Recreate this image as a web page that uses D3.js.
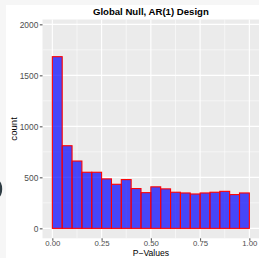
<!DOCTYPE html>
<html><head><meta charset="utf-8">
<script src="https://cdn.jsdelivr.net/npm/d3@7"></script>
<style>html,body{margin:0;padding:0;background:#f6f6f6;}svg{display:block;}</style>
</head><body>
<svg id="c" width="259" height="258"></svg>
<script>
const binStarts = [0.00,0.05,0.10,0.15,0.20,0.25,0.30,0.35,0.40,0.45,0.50,0.55,0.60,0.65,0.70,0.75,0.80,0.85,0.90,0.95];
const binWidth = 0.05;
const counts = [1683,810,660,550,550,485,432,478,390,350,407,387,354,347,337,347,354,363,331,347];
const xTicks = [0,0.25,0.5,0.75,1];
const xTickLabels = ["0.00","0.25","0.50","0.75","1.00"];
const yTicks = [0,500,1000,1500,2000];
const yTickLabels = ["0","500","1000","1500","2000"];
const titleText = "Global Null, AR(1) Design";
const xTitle = "P\u2212Values";
const yTitle = "count";

const svg = d3.select("#c");
const font = "'Liberation Sans', Arial, Helvetica, sans-serif";
svg.append("rect").attr("x",6).attr("y",5).attr("width",253).attr("height",253).attr("fill","#ffffff");
svg.append("ellipse").attr("cx",-2).attr("cy",189).attr("rx",4.2).attr("ry",8.5).attr("fill","#2f3d44");

const L = 42.5, R = 259.2, T = 19.5, B = 238.3;
const x = d3.scaleLinear().domain([-0.05,1.05]).range([L,R]);
const y = d3.scaleLinear().domain([-97.5,2047.5]).range([B,T]);

svg.append("rect").attr("x",L).attr("y",T).attr("width",R-L).attr("height",B-T).attr("fill","#ebebeb");
const g = svg.append("g");
const xMinor = [0.125,0.375,0.625,0.875];
const yMinor = [250,750,1250,1750];
g.selectAll(".xm").data(xMinor).enter().append("line")
 .attr("x1",d=>x(d)).attr("x2",d=>x(d)).attr("y1",T).attr("y2",B).attr("stroke","#fff").attr("stroke-width",0.55);
g.selectAll(".ym").data(yMinor).enter().append("line")
 .attr("y1",d=>y(d)).attr("y2",d=>y(d)).attr("x1",L).attr("x2",R).attr("stroke","#fff").attr("stroke-width",0.55);
g.selectAll(".xM").data(xTicks).enter().append("line")
 .attr("x1",d=>x(d)).attr("x2",d=>x(d)).attr("y1",T).attr("y2",B).attr("stroke","#fff").attr("stroke-width",1.1);
g.selectAll(".yM").data(yTicks).enter().append("line")
 .attr("y1",d=>y(d)).attr("y2",d=>y(d)).attr("x1",L).attr("x2",R).attr("stroke","#fff").attr("stroke-width",1.1);

g.selectAll(".bar").data(counts).enter().append("rect")
 .attr("x",(d,i)=>x(binStarts[i]))
 .attr("width",(d,i)=>x(binStarts[i]+binWidth)-x(binStarts[i]))
 .attr("y",d=>y(d)).attr("height",d=>y(0)-y(d))
 .attr("fill","rgba(0,0,255,0.7)").attr("stroke","#ff0000").attr("stroke-width",1.1);

const xa = svg.append("g").attr("transform",`translate(0,${B})`)
 .call(d3.axisBottom(x).tickValues(xTicks).tickFormat((d,i)=>xTickLabels[i]).tickSize(2.5).tickPadding(0));
const ya = svg.append("g").attr("transform",`translate(${L},0)`)
 .call(d3.axisLeft(y).tickValues(yTicks).tickFormat((d,i)=>yTickLabels[i]).tickSize(2.7).tickPadding(1.5));
[xa,ya].forEach(a=>{
  a.select(".domain").remove();
  a.selectAll(".tick line").attr("stroke","#333").attr("stroke-width",0.9);
  a.selectAll(".tick text").attr("fill","#4d4d4d").style("font-family",font).style("font-size","8.4px");
});
xa.selectAll(".tick text").style("font-size","7.8px");

svg.append("text").attr("x",(L+R)/2).attr("y",256.1).attr("text-anchor","middle")
 .style("font-family",font).style("font-size","8.6px").attr("fill","#000").text(xTitle);
svg.append("text").attr("x",(L+R)/2).attr("y",15).attr("text-anchor","middle")
 .style("font-family",font).style("font-size","9.6px").style("font-weight","bold").attr("fill","#000").text(titleText);
svg.append("text").attr("transform",`translate(17,${(T+B)/2}) rotate(-90)`).attr("text-anchor","middle")
 .style("font-family",font).style("font-size","9.6px").attr("fill","#000").text(yTitle);
</script>
</body></html>
